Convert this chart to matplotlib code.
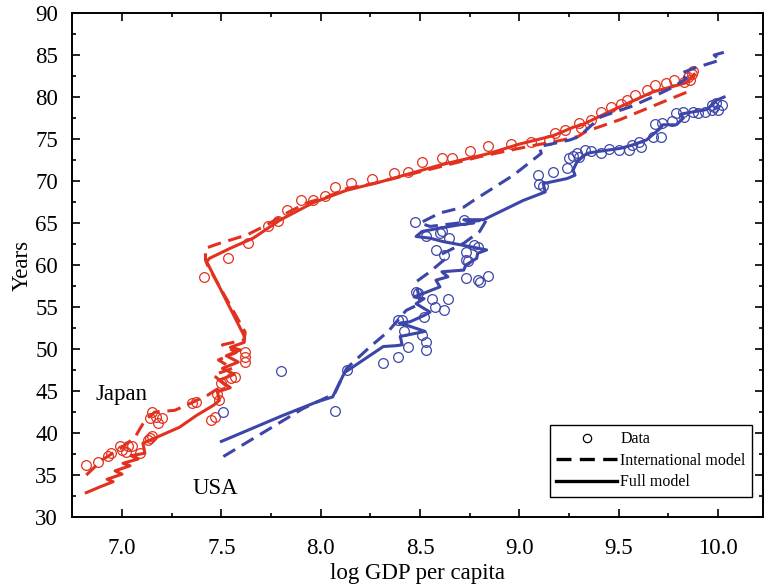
import matplotlib
matplotlib.use("Agg")
import matplotlib.pyplot as plt
from matplotlib.lines import Line2D
from matplotlib.ticker import MultipleLocator

plt.rcParams['font.family'] = ['Liberation Serif', 'DejaVu Serif']

red = '#e2321f'
blue = '#3c46a8'

# Japan: observed data
jp_data_x = [6.82, 6.88, 6.93, 6.945, 6.99, 7.0, 7.03, 7.02, 7.05, 7.09, 7.13, 7.14, 7.15,
             7.14, 7.17, 7.20, 7.18, 7.15, 7.35, 7.37, 7.47, 7.45, 7.49, 7.48, 7.50, 7.55,
             7.57, 7.62, 7.62, 7.62, 7.41, 7.535, 7.636, 7.733, 7.787, 7.83, 7.90, 7.96,
             8.02, 8.07, 8.15, 8.26, 8.37, 8.44, 8.51, 8.61, 8.66, 8.75, 8.84, 8.96, 9.06,
             9.15, 9.18, 9.23, 9.30, 9.31, 9.36, 9.41, 9.46, 9.51, 9.54, 9.58, 9.64, 9.68,
             9.74, 9.78, 9.83, 9.85, 9.87, 9.875, 9.86]
jp_data_y = [36.2, 36.6, 37.3, 37.6, 38.4, 38.0, 38.4, 37.8, 38.4, 37.6, 39.2, 39.4, 39.6,
             41.8, 41.9, 41.8, 41.2, 42.5, 43.6, 43.7, 41.9, 41.5, 43.9, 44.7, 45.9, 46.5,
             46.7, 48.4, 49.1, 49.6, 58.6, 60.8, 62.6, 64.6, 65.2, 66.5, 67.7, 67.7,
             68.2, 69.3, 69.8, 70.2, 70.9, 71.1, 72.3, 72.8, 72.8, 73.6, 74.2, 74.4, 74.7,
             74.9, 75.75, 76.1, 76.9, 76.3, 77.3, 78.25, 78.8, 79.2, 79.7, 80.2, 80.8, 81.4,
             81.7, 82.0, 81.8, 82.4, 82.7, 83.1, 82.0]

# Japan: international model
jp_intl_x = [6.82, 6.90, 7.00, 7.065, 7.115, 7.165, 7.265, 7.35, 7.43, 7.47, 7.52, 7.46,
             7.555, 7.485, 7.575, 7.505, 7.615, 7.62, 7.43, 7.42, 7.42, 7.48, 7.63, 7.73,
             7.83, 7.93, 8.03, 8.13, 8.265, 8.60, 8.80, 9.02, 9.22, 9.295, 9.335, 9.505,
             9.71, 9.875]
jp_intl_y = [35.0, 36.8, 38.3, 39.5, 41.5, 42.5, 42.7, 43.6, 44.5, 45.1, 45.7, 46.9,
             47.7, 48.7, 49.6, 50.5, 51.1, 52.0, 60.0, 60.6, 62.0, 62.5, 63.6, 64.8,
             66.2, 67.4, 68.1, 69.1, 69.7, 71.7, 72.9, 74.0, 74.9, 75.3, 75.9, 77.3,
             79.3, 80.9]

# Japan: full model
jp_full_x = [6.82, 6.89, 6.955, 6.925, 7.00, 6.965, 7.04, 7.005, 7.08, 7.045, 7.115, 7.105,
             7.175, 7.29, 7.375, 7.46, 7.49, 7.48, 7.545, 7.49, 7.565, 7.505, 7.585, 7.525,
             7.595, 7.545, 7.615, 7.615, 7.426, 7.44, 7.545, 7.66, 7.795, 7.96, 8.13, 8.30,
             8.60, 8.85, 9.00, 9.17, 9.27, 9.315, 9.47, 9.67, 9.84, 9.88]
jp_full_y = [32.9, 33.6, 34.2, 34.5, 35.1, 35.5, 36.1, 36.4, 36.9, 37.3, 37.6, 38.8,
             39.5, 40.7, 42.1, 43.3, 43.9, 44.9, 45.4, 46.3, 47.0, 47.7, 48.45, 49.2,
             49.9, 50.2, 50.8, 51.55, 60.4, 60.8, 62.0, 63.2, 65.35, 67.4, 68.9, 69.9,
             71.9, 73.3, 74.4, 75.4, 76.4, 76.7, 78.45, 80.6, 81.7, 82.7]

# USA: observed data
us_data_x = [7.51, 7.80, 8.07, 8.13, 8.315, 8.39, 8.44, 8.53, 8.53, 8.51, 8.42, 8.39, 8.41,
             8.52, 8.56, 8.575, 8.62, 8.64, 8.48, 8.49, 8.73, 8.79, 8.80, 8.84, 8.62, 8.58,
             8.73, 8.73, 8.74, 8.77, 8.79, 8.61, 8.645, 8.475, 8.72, 8.53, 8.60, 9.095,
             9.10, 9.12, 9.17, 9.24, 9.25, 9.27, 9.29, 9.30, 9.33, 9.36, 9.41, 9.45, 9.50,
             9.55, 9.565, 9.60, 9.61, 9.67, 9.715, 9.68, 9.72, 9.77, 9.79, 9.825, 9.83,
             9.875, 9.90, 9.935, 9.97, 9.99, 10.02, 10.0, 9.98, 9.97]
us_data_y = [42.5, 47.4, 42.6, 47.5, 48.3, 49.1, 50.3, 49.9, 50.8, 51.7, 52.1, 53.5, 53.4,
             53.85, 55.9, 55.0, 54.6, 56.0, 56.8, 56.7, 58.5, 58.2, 58.0, 58.7, 61.2, 61.8,
             61.6, 60.6, 60.5, 62.4, 62.2, 64.0, 63.2, 65.1, 65.4, 63.4, 63.8, 70.7,
             69.6, 69.4, 71.1, 71.5, 72.7, 73.0, 73.3, 72.9, 73.7, 73.6, 73.3, 73.8, 73.7,
             73.7, 74.3, 74.7, 74.0, 75.2, 75.2, 76.8, 76.9, 77.1, 78.1, 78.25, 77.65,
             78.25, 78.1, 78.25, 79.05, 79.25, 79.05, 78.5, 78.85, 78.45]

# USA: international model
us_intl_x = [7.51, 7.91, 8.07, 8.13, 8.25, 8.34, 8.43, 8.50, 8.48, 8.55, 8.62, 8.60, 8.72,
             8.80, 8.835, 8.55, 8.50, 8.60, 8.72, 8.77, 8.97, 9.11, 9.10, 9.255, 9.30, 9.41,
             9.56, 9.67, 9.775, 9.84, 9.81, 9.875, 10.01, 9.98, 10.04]
us_intl_y = [37.2, 42.9, 44.7, 47.7, 50.3, 52.1, 54.6, 55.4, 58.0, 59.2, 60.6, 61.2, 62.6,
             64.0, 65.4, 64.6, 65.0, 66.2, 66.9, 67.7, 70.7, 73.3, 74.1, 74.9, 75.3, 77.65,
             78.85, 80.0, 81.2, 82.2, 82.8, 83.4, 84.4, 85.0, 85.4]

# USA: full model
us_full_x = [7.50, 7.81, 7.98, 8.06, 8.12, 8.315, 8.38, 8.41, 8.40, 8.525, 8.40, 8.45, 8.52,
             8.55, 8.48, 8.52, 8.47, 8.60, 8.58, 8.64, 8.61, 8.72, 8.73, 8.785, 8.79, 8.835,
             8.75, 8.615, 8.55, 8.48, 8.51, 8.60, 8.70, 8.77, 8.72, 8.82, 9.02, 9.13, 9.12,
             9.24, 9.28, 9.27, 9.29, 9.34, 9.39, 9.51, 9.57, 9.64, 9.67, 9.69, 9.71, 9.72,
             9.79, 9.825, 9.81, 9.84, 9.94, 9.97, 9.99, 10.03]
us_full_y = [39.0, 42.1, 43.7, 44.3, 47.2, 50.3, 50.4, 50.5, 51.5, 52.1, 53.1, 53.25, 54.0,
             54.4, 55.4, 56.0, 56.2, 57.4, 58.2, 58.6, 59.2, 59.4, 60.0, 60.8, 61.4, 61.8,
             62.2, 62.8, 63.2, 63.4, 64.0, 64.4, 64.8, 65.0, 65.4, 65.4, 67.7, 68.7, 69.7,
             70.3, 70.7, 71.3, 72.3, 73.3, 73.5, 73.9, 74.3, 74.9, 75.5, 75.9, 76.3, 76.7,
             76.7, 77.5, 77.9, 78.1, 78.5, 79.05, 79.6, 80.0]

dash = (0, (4.5, 2.5))
lw = 2.2

fig = plt.figure(figsize=(7.64, 5.86), dpi=100)
ax = fig.add_axes([0.0942, 0.1177, 0.9045, 0.860])

ax.plot(jp_intl_x, jp_intl_y, color=red, lw=lw, linestyle=dash)
ax.plot(jp_full_x, jp_full_y, color=red, lw=lw)
ax.plot(jp_data_x, jp_data_y, 'o', mfc='none', mec=red, ms=7, mew=0.9)

ax.plot(us_intl_x, us_intl_y, color=blue, lw=lw, linestyle=dash)
ax.plot(us_full_x, us_full_y, color=blue, lw=lw)
ax.plot(us_data_x, us_data_y, 'o', mfc='none', mec=blue, ms=7, mew=0.9)

ax.text(6.864, 44.6, 'Japan', fontsize=16.5, va='center', ha='left')
ax.text(7.357, 33.45, 'USA', fontsize=16.5, va='center', ha='left')

ax.set_xlim(6.748, 10.226)
ax.set_ylim(30, 90)
ax.xaxis.set_major_locator(MultipleLocator(0.5))
ax.xaxis.set_minor_locator(MultipleLocator(0.25))
ax.yaxis.set_major_locator(MultipleLocator(5))
ax.yaxis.set_minor_locator(MultipleLocator(2.5))
ax.tick_params(which='both', direction='in', top=True, right=True, width=1.2)
ax.tick_params(which='major', length=6, labelsize=16.5)
ax.tick_params(which='minor', length=3)
ax.tick_params(axis='x', pad=15)
ax.tick_params(axis='y', pad=10)
for s in ax.spines.values():
    s.set_linewidth(1.4)

ax.set_xlabel('log GDP per capita', fontsize=16.5, labelpad=3)
ax.set_ylabel('Years', fontsize=16.5, labelpad=2)

handles = [
    Line2D([], [], marker='o', linestyle='none', mfc='none', mec='black', ms=6, mew=0.9),
    Line2D([], [], color='black', lw=2.4, linestyle=dash),
    Line2D([], [], color='black', lw=2.4),
]
leg = ax.legend(handles, ['Data', 'International model', 'Full model'],
                loc='lower right', bbox_to_anchor=(0.984, 0.04), fontsize=11.5,
                frameon=True, fancybox=False, framealpha=1, edgecolor='black',
                handlelength=3.8, handletextpad=0.2, labelspacing=0.35,
                borderpad=0.4, borderaxespad=0)
leg.get_frame().set_linewidth(1.0)

fig.savefig('out.png', dpi=100)
